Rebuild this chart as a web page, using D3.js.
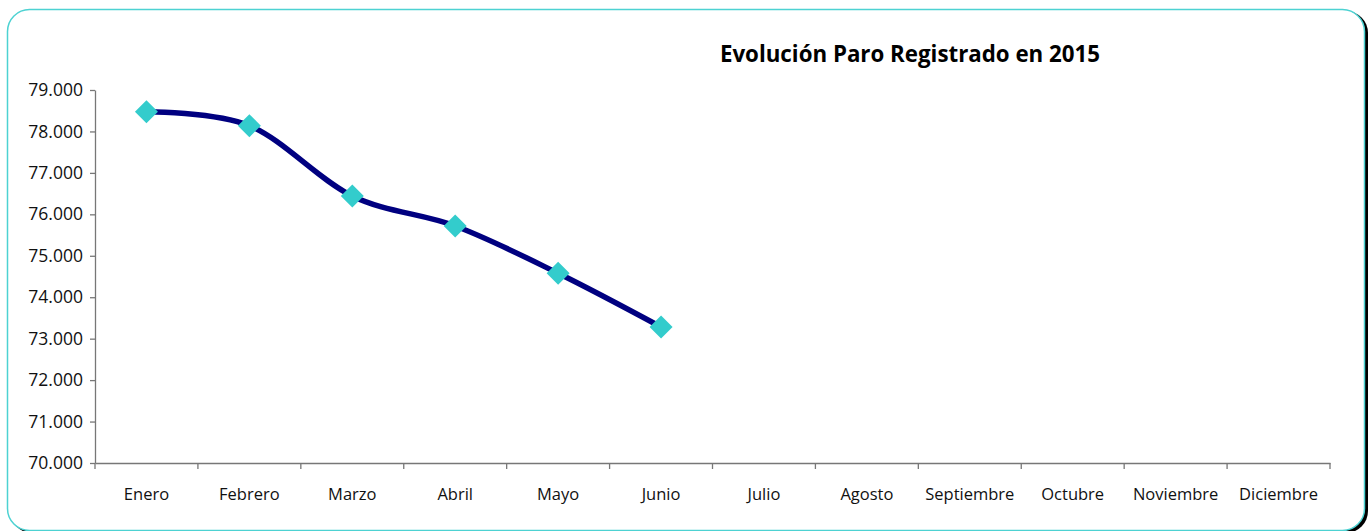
<!DOCTYPE html>
<html>
<head>
<meta charset="utf-8">
<script src="https://cdn.jsdelivr.net/npm/d3@7"></script>
<style>
  body { margin: 0; background: #fff; }
  svg { display: block; font-family: "Open Sans", sans-serif; }
</style>
</head>
<body>
<script>
// data
var months = ["Enero", "Febrero", "Marzo", "Abril", "Mayo", "Junio", "Julio",
              "Agosto", "Septiembre", "Octubre", "Noviembre", "Diciembre"];
var paro = [78477, 78140, 76443, 75719, 74578, 73282];
var yTicks = [70000, 71000, 72000, 73000, 74000, 75000, 76000, 77000, 78000, 79000];
var title = "Evolución Paro Registrado en 2015";

var width = 1371, height = 531;
var margin = {top: 90, right: 41, bottom: 68, left: 95};

var svg = d3.select("body").append("svg").attr("width", width).attr("height", height);

// frame with shadow on the right
svg.append("rect")
  .attr("x", 10).attr("y", 11).attr("width", 1358).attr("height", 522)
  .attr("rx", 22).attr("fill", "#000");
svg.append("rect")
  .attr("x", 7.5).attr("y", 9.5).attr("width", 1357).attr("height", 521)
  .attr("rx", 22).attr("fill", "#fff").attr("stroke", "#4dd2d2").attr("stroke-width", 1.5);

var g = svg.append("g").attr("transform", "translate(" + margin.left + "," + margin.top + ")");
var w = width - margin.left - margin.right;
var h = height - margin.top - margin.bottom;

var x = d3.scaleBand().domain(months).range([0, w]);
var y = d3.scaleLinear().domain([70000, 79000]).range([h, 0]);

var fmt = function(d) { return d3.format(",")(d).replace(/,/g, "."); };

// y axis
var yAxis = g.append("g")
  .call(d3.axisLeft(y).tickValues(yTicks).tickFormat(fmt).tickSize(5).tickSizeOuter(0));
yAxis.select(".domain").attr("stroke", "#777").attr("stroke-width", 1.3);
yAxis.selectAll(".tick line").attr("stroke", "#777").attr("stroke-width", 1.3);
yAxis.selectAll(".tick text").attr("x", -12).attr("font-size", 17.5).attr("fill", "#111")
  .style("font-family", "'Open Sans', sans-serif");

// x axis: ticks between categories
var xAxis = g.append("g").attr("transform", "translate(0," + h + ")")
  .call(d3.axisBottom(x).tickSize(0).tickSizeOuter(0));
xAxis.select(".domain").attr("stroke", "#777").attr("stroke-width", 1.3);
xAxis.selectAll(".tick text").attr("y", 25).attr("font-size", 16.5).attr("fill", "#111")
  .style("font-family", "'Open Sans', sans-serif");
var bounds = months.map(function(m) { return x(m); }).concat([w]);
xAxis.selectAll(".sep").data(bounds).enter().append("line")
  .attr("x1", function(d) { return d; }).attr("x2", function(d) { return d; })
  .attr("y1", 0).attr("y2", 6).attr("stroke", "#777").attr("stroke-width", 1.3);

// line
var pts = paro.map(function(v, i) { return {m: months[i], v: v}; });
var line = d3.line()
  .curve(d3.curveCardinal.tension(0))
  .x(function(d) { return x(d.m) + x.bandwidth() / 2; })
  .y(function(d) { return y(d.v); });

g.append("path").datum(pts)
  .attr("d", line).attr("fill", "none")
  .attr("stroke", "#000080").attr("stroke-width", 5.5).attr("stroke-linejoin", "round");

g.selectAll(".pt").data(pts).enter().append("path")
  .attr("class", "pt")
  .attr("transform", function(d) { return "translate(" + (x(d.m) + x.bandwidth() / 2) + "," + y(d.v) + ")"; })
  .attr("d", "M0,-11.5L11.5,0L0,11.5L-11.5,0Z")
  .attr("fill", "#33cccc");

// title
svg.append("text")
  .attr("x", 910).attr("y", 62)
  .attr("text-anchor", "middle")
  .attr("font-size", 22.3).attr("font-weight", "bold").attr("fill", "#000")
  .text(title);
</script>
</body>
</html>
